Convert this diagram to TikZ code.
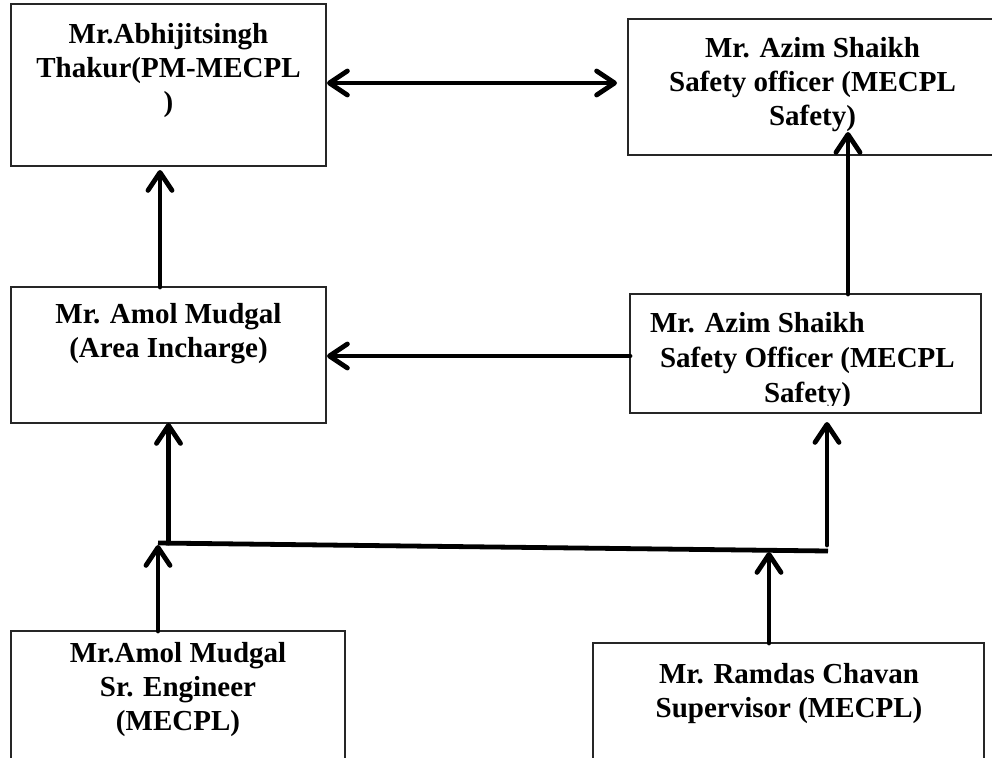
\documentclass[tikz,border=0pt]{standalone}
\usepackage{fontspec}
\setmainfont{Liberation Serif}
\usetikzlibrary{arrows.meta}
\begin{document}
\begin{tikzpicture}[x=1pt,y=-1pt,
  box/.style={draw=black!85,line width=1.2pt,inner sep=0pt,outer sep=0pt,rectangle},
  txt/.style={inner sep=0pt,outer sep=0pt,align=center,font=\fontsize{29}{34}\selectfont\bfseries},
  conn/.style={line width=4.8pt,line cap=round,line join=round},
  tipstyle/.style={},
  arr/.style={conn,-{Straight Barb[length=18pt,width=24pt,line cap=round,line join=round]}},
  darr/.style={conn,{Straight Barb[length=18pt,width=24pt,line cap=round,line join=round]}-{Straight Barb[length=18pt,width=24pt,line cap=round,line join=round]}}]
\useasboundingbox (0,0) rectangle (992,757);
% boxes
\node[box,minimum width=315pt,minimum height=162pt] (b1) at (168.5,85) {};
\node[box,minimum width=369pt,minimum height=136pt] (b2) at (812.5,87) {};
\node[box,minimum width=315pt,minimum height=136pt] (b3) at (168.5,355) {};
\node[box,minimum width=351pt,minimum height=119pt] (b4) at (805.5,353.5) {};
\node[box,minimum width=334pt,minimum height=159pt] (b5) at (178,710.5) {};
\node[box,minimum width=391pt,minimum height=147pt] (b6) at (788.5,716.5) {};
% texts
\node[txt,anchor=north] (t1) at (168.5,23) {Mr.Abhijitsingh\\Thakur(PM-MECPL\\)};
\node[txt,anchor=north] (t2) at (812.5,37) {Mr. Azim Shaikh\\Safety officer (MECPL\\Safety)};
\node[txt,anchor=north] (t3) at (168.5,303) {Mr. Amol Mudgal\\(Area Incharge)};
\node[txt,anchor=base west] (t4a) at (650,332) {Mr. Azim Shaikh};
\node[txt,anchor=base west] (t4b) at (660,367) {Safety Officer (MECPL};
\begin{scope}
\clip (620,370) rectangle (990,405);
\node[txt,anchor=base] (t4c) at (807.5,402) {Safety)};
\end{scope}
\node[txt,anchor=north] (t5) at (178,642) {Mr.Amol Mudgal\\Sr. Engineer\\(MECPL)};
\node[txt,anchor=north] (t6) at (789,663) {Mr. Ramdas Chavan\\Supervisor (MECPL)};
% junctions
\coordinate (j1) at (158,543);
\coordinate (j2) at (828,551);
\coordinate (j3) at (769,552);
\coordinate (j4) at (158,545);
% connectors
\draw[darr] ([xshift=1pt,yshift=2pt]b1.east) -- ([xshift=-11pt,yshift=4pt]b2.west);
\draw[arr] ([xshift=-8.5pt]b3.north) -- ([xshift=-8.5pt,yshift=-4pt]b1.south);
\draw[arr] ([xshift=42.5pt]b4.north) -- ([xshift=35.5pt,yshift=23pt]b2.south);
\draw[arr] ([yshift=-2.5pt]b4.west) -- ([xshift=1pt,yshift=-1pt]b3.east);
\draw[conn,line cap=butt] (j1) -- (j2);
\draw[arr] (b3.south |- j1) -- (b3.south);
\draw[arr] ([xshift=-1pt,yshift=6pt]j2) -- ([xshift=21.5pt,yshift=-9pt]b4.south);
\draw[arr] (j4 |- b5.north) -- (j4);
\draw[arr] (j3 |- b6.north) -- (j3);
\end{tikzpicture}
\end{document}
